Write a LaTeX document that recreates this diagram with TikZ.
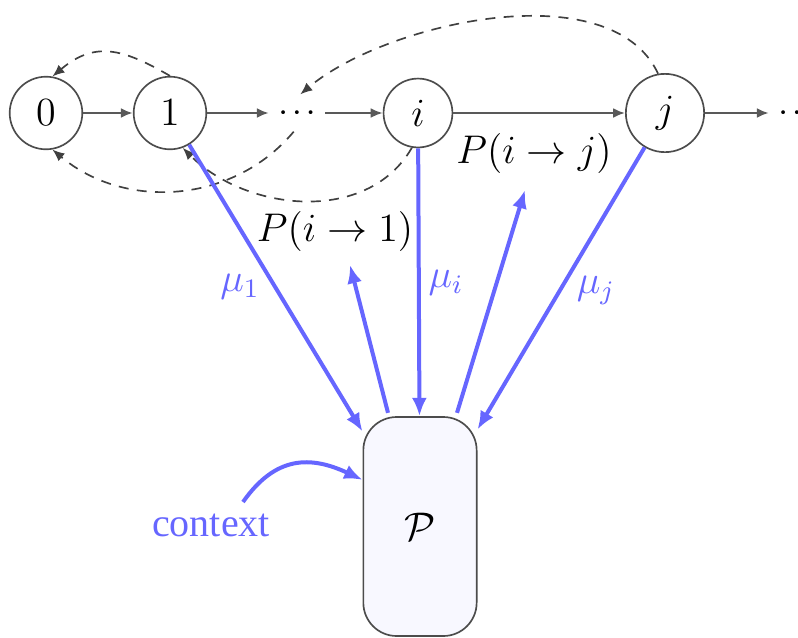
\documentclass[tikz,border=0pt]{standalone}
\usepackage{fontspec}
\newfontfamily\ctxfont{Liberation Serif}
\usetikzlibrary{arrows.meta,calc}
\definecolor{bl}{RGB}{102,102,255}
\definecolor{boxfill}{RGB}{248,248,255}
\begin{document}
\begin{tikzpicture}[x=0.3pt,y=-0.3pt,
  every node/.style={font=\fontsize{11.5}{13}\selectfont},
  state/.style={circle,draw=black!70,line width=0.5pt,minimum size=19.5pt,inner sep=4.3pt,fill=white},
  dotsnode/.style={inner sep=0pt,minimum width=16.5pt,minimum height=10.8pt,font=\fontsize{7.5}{9}\selectfont\boldmath},
  flow/.style={draw=black!65,line width=0.7pt,-{Latex[length=3.6pt,width=3pt]}},
  jump/.style={draw=black!75,line width=0.5pt,dash pattern=on 3pt off 2.5pt,-{Latex[length=3.6pt,width=3pt]}},
  rate/.style={draw=bl,line width=1.2pt,-{Latex[length=5.5pt,width=4.5pt]}},
  bluelabel/.style={text=bl},
  pbox/.style={draw=black!70,line width=0.5pt,fill=boxfill,rounded corners=10pt,minimum width=34pt,minimum height=65.7pt}
]
\useasboundingbox (0,0) rectangle (798,637);

\node[state] (n0) at (46,113) {$0$};
\node[state] (n1) at (170,113) {$1$};
\node[dotsnode] (d1) at (297,113) {$\cdots$};
\node[state] (ni) at (418,113) {$i$};
\node[state] (nj) at (665,113) {$j$};
\node[dotsnode] (d2) at (797,113) {$\cdots$};

\node[pbox] (P) at (420,526.5) {$\mathcal{P}$};

\draw[flow] (n0) -- (n1);
\draw[flow] (n1) -- (d1);
\draw[flow] (d1) -- (ni);
\draw[flow] (ni) -- (nj);
\draw[flow] (nj) -- (d2);

\draw[jump] (n1.north) to[out=150,in=40,looseness=1.2] (n0.80);
\draw[jump] (d1.-100) to[out=-130,in=-40] (n0.-80);
\draw[jump] (ni.-100) to[out=-120,in=-45] (n1.-70);
\draw[jump] (nj.100) to[out=115,in=40,looseness=0.8] (d1.80);

\node (pi1) at (335,231) {$P(i\to 1)$};
\node (pij) at (534,153) {$P(i\to j)$};

\coordinate (t1) at (350,265);
\coordinate (t2) at (525,190);

\draw[rate] (n1) -- (P);
\draw[rate] (ni) -- (P);
\draw[rate] (nj) -- (P);
\draw[rate] ([xshift=-9.6pt,yshift=1pt]P.north) -- (t1);
\draw[rate] ([xshift=11.1pt,yshift=1pt]P.north) -- (t2);

\node[bluelabel] (m1) at (240,287) {$\mu_1$};
\node[bluelabel] (mi) at (446,283) {$\mu_i$};
\node[bluelabel] (mj) at (596,290) {$\mu_j$};

\node[bluelabel,font=\ctxfont\fontsize{12}{14}\selectfont] (ctx) at (211,525) {context};
\coordinate (cs) at (243,502);
\draw[rate] (cs) to[out=55,in=155,looseness=1.2] ([yshift=14pt]P.west);
\end{tikzpicture}
\end{document}
